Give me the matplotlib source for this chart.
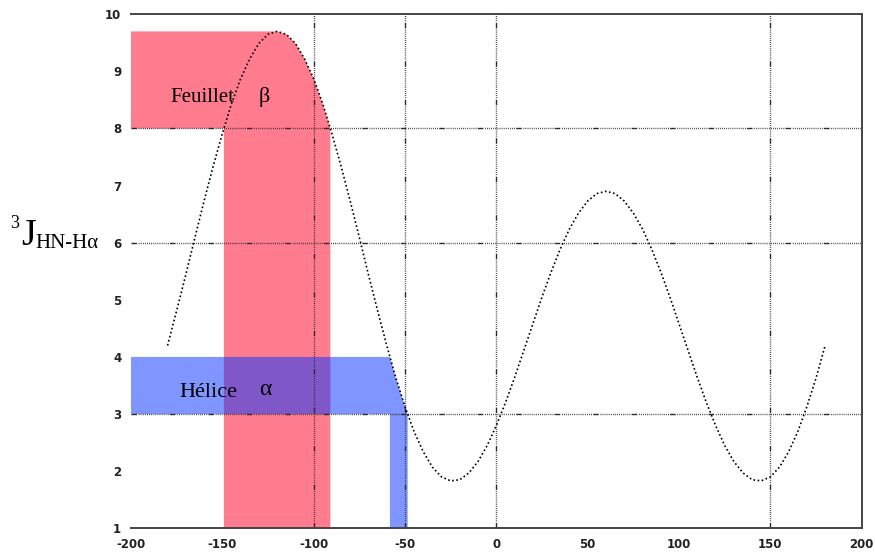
#!/usr/bin/env python3
"""
Karplus curve 3J(HN-Halpha) vs phi with beta-sheet / alpha-helix regions
"""

import numpy as np
import matplotlib
matplotlib.use('Agg')
import matplotlib.pyplot as plt
from matplotlib.patches import Polygon

# Curve (phi in degrees, coupling in Hz)
PHI = [-180, -175, -170, -165, -160, -155, -150, -145, -140, -135, -130, -125,
       -120, -115, -110, -105, -100, -95, -90, -85, -80, -75, -70, -65, -60,
       -55, -50, -45, -40, -35, -30, -25, -20, -15, -10, -5, 0, 5, 10, 15,
       20, 25, 30, 35, 40, 45, 50, 55, 60, 65, 70, 75, 80, 85, 90, 95, 100,
       105, 110, 115, 120, 125, 130, 135, 140, 145, 150, 155, 160, 165, 170,
       175, 180]
J_COUPLING = [4.20, 4.81, 5.44, 6.09, 6.73, 7.34, 7.91, 8.43, 8.87, 9.22, 9.49, 9.65,
              9.70, 9.65, 9.49, 9.22, 8.87, 8.43, 7.91, 7.34, 6.73, 6.09, 5.44, 4.81, 4.20,
              3.63, 3.13, 2.69, 2.34, 2.07, 1.90, 1.83, 1.85, 1.97, 2.17, 2.45, 2.80, 3.20, 3.64, 4.11,
              4.58, 5.05, 5.49, 5.89, 6.24, 6.52, 6.73, 6.86, 6.90, 6.86, 6.73, 6.52, 6.24, 5.89, 5.49, 5.05, 4.58,
              4.11, 3.64, 3.20, 2.80, 2.45, 2.17, 1.97, 1.85, 1.83, 1.90, 2.07, 2.34, 2.69, 3.13,
              3.63, 4.20]

# Secondary structure regions (coupling ranges)
BETA_J = 8.0           # feuillet beta: J above 8 Hz (up to the maximum)
HELIX_J = (3.0, 4.0)   # helice alpha: J between 3 and 4 Hz

X_TICKS = [-200, -150, -100, -50, 0, 50, 100, 150, 200]
Y_TICKS = [1, 2, 3, 4, 5, 6, 7, 8, 9, 10]
GRID_X = [-100, -50, 0, 150]
GRID_Y = [3, 6, 8]

RED = '#ff7b8e'
BLUE = (13 / 255, 55 / 255, 1.0)

phi = np.array(PHI, dtype=float)
J = np.array(J_COUPLING)

fig = plt.figure(figsize=(8.75, 5.53), dpi=100)
ax = fig.add_axes([0.1497, 0.0447, 0.8351, 0.9295])
ax.set_xlim(-200, 200)
ax.set_ylim(1, 10)

# crossing points on the curve
rise = (phi >= -165) & (phi <= -135)
fall = (phi >= -105) & (phi <= -75)
b_left = np.interp(BETA_J, J[rise], phi[rise])
b_right = np.interp(BETA_J, J[fall][::-1], phi[fall][::-1])
peak_phi = phi[np.argmax(J)]
top = (phi >= peak_phi) & (phi <= b_right)

red_pts = [(-200, BETA_J), (-200, J.max())]
red_pts += list(zip(phi[top], J[top]))
red_pts += [(b_right, BETA_J), (b_right, 1), (b_left, 1), (b_left, BETA_J)]
ax.add_patch(Polygon(red_pts, closed=True, facecolor=RED, edgecolor='none', zorder=1))

seg = (phi >= -65) & (phi <= -40)
h_left = np.interp(HELIX_J[1], J[seg][::-1], phi[seg][::-1])
h_right = np.interp(HELIX_J[0], J[seg][::-1], phi[seg][::-1])
mid = seg & (J > HELIX_J[0]) & (J < HELIX_J[1])
blue_pts = [(-200, HELIX_J[0]), (-200, HELIX_J[1]), (h_left, HELIX_J[1])]
blue_pts += list(zip(phi[mid], J[mid]))
blue_pts += [(h_right, HELIX_J[0]), (h_right, 1), (h_left, 1), (h_left, HELIX_J[0])]
ax.add_patch(Polygon(blue_pts, closed=True, facecolor=BLUE, alpha=0.53,
                     edgecolor='none', zorder=2))

# dotted grid with a dash every ~40 px
grid_ls = (0, [4.0, 1.2] + [0.6, 0.9] * 20)
for gx in GRID_X:
    ax.axvline(gx, color='#2a2a2a', lw=1.0, ls=grid_ls, zorder=3)
for gy in GRID_Y:
    ax.axhline(gy, color='#2a2a2a', lw=1.0, ls=grid_ls, zorder=3)

ax.plot(phi, J, color='black', lw=1.2, ls=(0, (1, 1.5)), zorder=4)

ax.set_xticks(X_TICKS)
ax.set_yticks(Y_TICKS)
ax.set_xticklabels([str(v) for v in X_TICKS])
ax.set_yticklabels([str(v) for v in Y_TICKS])
ax.tick_params(length=0, labelsize=8.5, colors='#222222', pad=7)
for lab in ax.get_xticklabels() + ax.get_yticklabels():
    lab.set_fontweight('bold')

ax.spines['left'].set_visible(False)
for side in ['top', 'right', 'bottom']:
    ax.spines[side].set_color('#444444')
    ax.spines[side].set_linewidth(1.4)
    ax.spines[side].set_zorder(5)

serif = ['Liberation Serif', 'DejaVu Serif']
ax.text(-178.5, 8.46, 'Feuillet', fontsize=15, family=serif, zorder=6)
ax.text(-130, 8.46, 'β', fontsize=16, family=serif, zorder=6)
ax.text(-173.5, 3.29, 'Hélice', fontsize=16, family=serif, zorder=6)
ax.text(-130, 3.33, 'α', fontsize=17, family=serif, zorder=6)

# y label: 3J with HN-Halpha subscript
fig.text(10 / 875, 1 - 228 / 553, '3', fontsize=13, family=serif, va='baseline')
fig.text(21 / 875, 1 - 245 / 553, 'J', fontsize=27, family=serif, va='baseline')
fig.text(35 / 875, 1 - 248 / 553, 'HN-Hα', fontsize=15, family=serif, va='baseline')

fig.savefig('out.png', dpi=100)
